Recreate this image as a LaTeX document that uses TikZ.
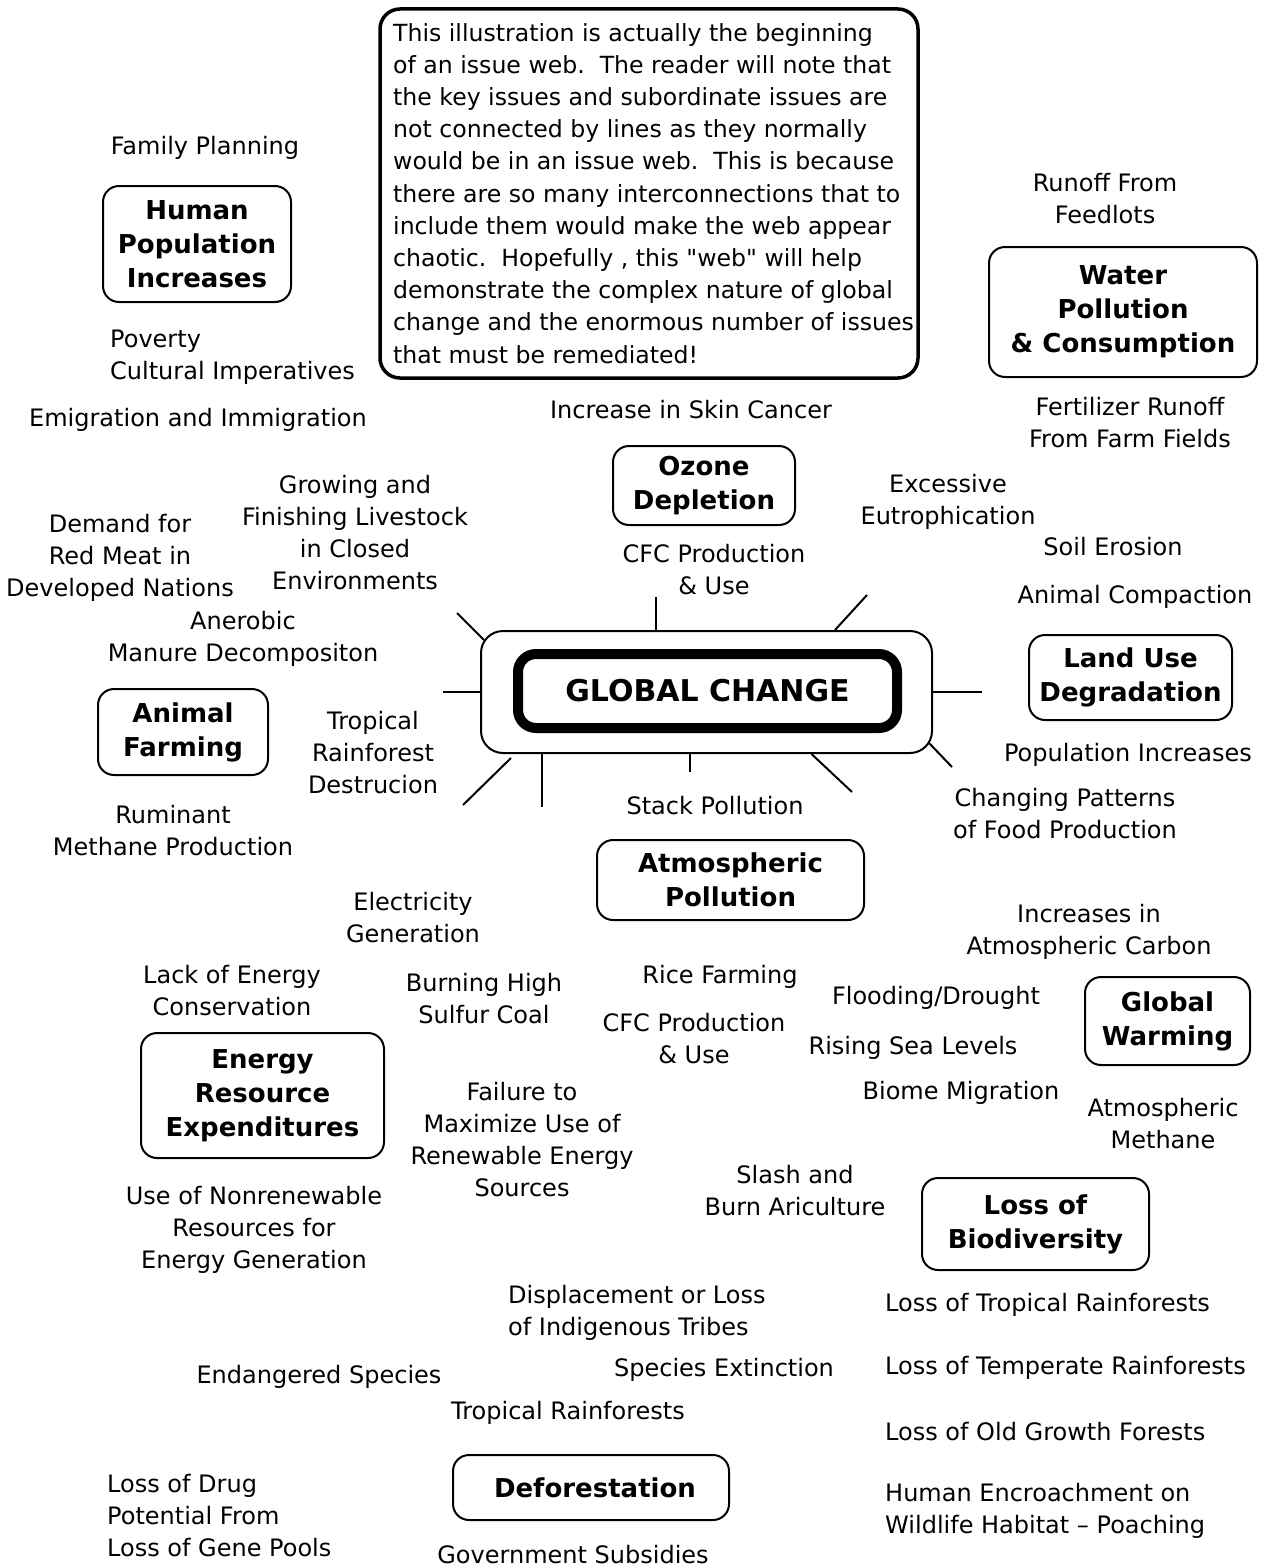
\documentclass[tikz,border=0pt]{standalone}
\usepackage{fontspec}
\setmainfont{DejaVu Sans}
\usepackage{tikz}
\usetikzlibrary{positioning}

\newcommand{\smallissuefont}{\fontsize{24}{32}\selectfont}
\newcommand{\keyissuefont}{\fontsize{26}{34}\selectfont\bfseries}
\newcommand{\webnotefont}{\fontsize{23.6}{32.2}\selectfont}
\newcommand{\globalfont}{\fontsize{30}{36}\selectfont\bfseries}
\newcommand{\straightquote}{\XeTeXglyph\XeTeXcharglyph"22\relax}

\begin{document}
\begin{tikzpicture}[
    x=1pt, y=-1pt,
    keyissue/.style={
        draw,
        line width=2pt,
        rounded corners=16pt,
        align=center,
        inner sep=0pt,
        font=\keyissuefont
    },
    subissue/.style={
        align=center,
        inner sep=0pt,
        font=\smallissuefont
    },
    ray/.style={
        draw,
        line width=2pt
    }
]
\useasboundingbox (0,0) rectangle (1269,1568);

% Note
\node [draw, line width=3.5pt, rounded corners=20pt, minimum width=538pt, minimum height=369pt, inner sep=0pt] (frame) at (649,193.5) {};
\node [anchor=north west, align=left, inner sep=0pt, font=\webnotefont] (note) at (393,23) {This illustration is actually the beginning\\
of an issue web.\ \ The reader will note that\\
the key issues and subordinate issues are\\
not connected by lines as they normally\\
would be in an issue web.\ \ This is because\\
there are so many interconnections that to\\
include them would make the web appear\\
chaotic.\ \ Hopefully , this \straightquote web\straightquote\ will help\\
demonstrate the complex nature of global\\
change and the enormous number of issues\\
that must be remediated!};

% Central issue
\node [draw, line width=2pt, rounded corners=22pt, minimum width=451pt, minimum height=122pt, inner sep=0pt] (gc) at (706.5,692) {};
\node [draw, line width=10pt, rounded corners=18pt, minimum width=379pt, minimum height=74pt, inner sep=0pt, font=\globalfont] (gcin) at (707.5,691) {GLOBAL CHANGE};

% Key issues
\node [keyissue, minimum width=188pt, minimum height=116pt] (human) at (197,244) {Human\\Population\\Increases};
\node [keyissue, minimum width=268pt, minimum height=130pt] (water) at (1123,312) {Water\\Pollution\\\& Consumption};
\node [keyissue, minimum width=182pt, minimum height=79pt] (ozone) at (704,485.5) {Ozone\\Depletion};
\node [keyissue, minimum width=203pt, minimum height=85pt] (land) at (1130.5,677.5) {Land Use\\Degradation};
\node [keyissue, minimum width=170pt, minimum height=86pt] (animal) at (183,732) {Animal\\Farming};
\node [keyissue, minimum width=267pt, minimum height=80pt] (atmos) at (730.5,880) {Atmospheric\\Pollution};
\node [keyissue, minimum width=165pt, minimum height=88pt] (warming) at (1167.5,1021) {Global\\Warming};
\node [keyissue, minimum width=243pt, minimum height=125pt] (energy) at (262.5,1095.5) {Energy\\Resource\\Expenditures};
\node [keyissue, minimum width=227pt, minimum height=92pt] (biodiv) at (1035.5,1224) {Loss of\\Biodiversity};
\node [keyissue, minimum width=276pt, minimum height=65pt] (defor) at (591,1487.5) {\hspace*{8pt}Deforestation};

% Subordinate issues
\node [subissue] (family) at (205,148) {Family Planning};
\node [subissue, anchor=west, align=left] (poverty) at (110,357.5) {Poverty\\Cultural Imperatives};
\node [subissue] (emig) at (198,420) {Emigration and Immigration};
\node [subissue] (skin) at (691,410) {Increase in Skin Cancer};
\node [subissue] (cfcup) at (714,570) {CFC Production\\\& Use};
\node [subissue] (runoff) at (1105,199) {Runoff From\\Feedlots};
\node [subissue] (fert) at (1130,422.5) {Fertilizer Runoff\\From Farm Fields};
\node [subissue] (eutro) at (948,502) {Excessive\\Eutrophication};
\node [subissue] (soil) at (1113,547) {Soil Erosion};
\node [subissue] (compact) at (1135,597) {Animal Compaction};
\node [subissue] (popinc) at (1128,755) {Population Increases};
\node [subissue] (food) at (1065,814) {Changing Patterns\\of Food Production};
\node [subissue] (grow) at (355,533) {Growing and\\Finishing Livestock\\in Closed\\Environments};
\node [subissue] (demand) at (120,558) {Demand for\\Red Meat in\\Developed Nations};
\node [subissue] (manure) at (243,639) {Anerobic\\Manure Decompositon};
\node [subissue] (tropdest) at (373,753) {Tropical\\Rainforest\\Destrucion};
\node [subissue] (rumin) at (173,831) {Ruminant\\Methane Production};
\node [subissue] (stack) at (715,806) {Stack Pollution};
\node [subissue] (carbon) at (1089,932) {Increases in\\Atmospheric Carbon};
\node [subissue] (methane) at (1163,1124) {Atmospheric\\Methane};
\node [subissue] (flood) at (936,998) {Flooding/Drought};
\node [subissue] (sea) at (913,1048) {Rising Sea Levels};
\node [subissue] (biome) at (961,1093) {Biome Migration};
\node [subissue] (rice) at (720,977) {Rice Farming};
\node [subissue] (cfclow) at (694,1039) {CFC Production\\\& Use};
\node [subissue] (slash) at (795,1191) {Slash and\\Burn Ariculture};
\node [subissue] (elec) at (413,918) {Electricity\\Generation};
\node [subissue] (conserv) at (232,991) {Lack of Energy\\Conservation};
\node [subissue] (coal) at (484,999) {Burning High\\Sulfur Coal};
\node [subissue] (renew) at (522,1140) {Failure to\\Maximize Use of\\Renewable Energy\\Sources};
\node [subissue] (nonrenew) at (254,1230) {Use of Nonrenewable\\Resources for\\Energy Generation};
\node [subissue, anchor=west, align=left] (tribes) at (508,1312.5) {Displacement or Loss\\of Indigenous Tribes};
\node [subissue] (endang) at (319,1377) {Endangered Species};
\node [subissue] (extinct) at (724,1370) {Species Extinction};
\node [subissue] (tropics) at (568,1413) {Tropical Rainforests};
\node [subissue, anchor=west, align=left] (drug) at (107,1516) {Loss of Drug\\Potential From\\Loss of Gene Pools};
\node [subissue] (subsid) at (573,1555) {Government Subsidies};
\node [subissue, anchor=west] (troploss) at (885,1305) {Loss of Tropical Rainforests};
\node [subissue, anchor=west] (temploss) at (885,1368) {Loss of Temperate Rainforests};
\node [subissue, anchor=west] (oldloss) at (885,1432) {Loss of Old Growth Forests};
\node [subissue, anchor=west, align=left] (encroach) at (885,1511) {Human Encroachment on\\Wildlife Habitat -- Poaching};

% Rays
\coordinate (r1) at (457,613);
\coordinate (r2) at (656,597);
\coordinate (r3) at (867,595);
\coordinate (r4) at (443,692);
\coordinate (r5) at (982,692);
\coordinate (r6) at (463,805);
\coordinate (r7) at (542,807);
\coordinate (r8) at (690,772);
\coordinate (r9) at (852,792);
\coordinate (r10) at (952,767);
\path [ray] ([shift={(4,10)}]gc.north west) -- (r1);
\path [ray] (gc.north -| r2) -- (r2);
\path [ray] ([xshift=128.5pt]gc.north) -- (r3);
\path [ray] (gc.west) -- (r4);
\path [ray] (gc.east) -- (r5);
\path [ray] ([shift={(31,4)}]gc.south west) -- (r6);
\path [ray] (gc.south -| r7) -- (r7);
\path [ray] (gc.south -| r8) -- (r8);
\path [ray] ([xshift=105pt]gc.south) -- (r9);
\path [ray] ([shift={(-4,-11)}]gc.south east) -- (r10);

\end{tikzpicture}
\end{document}
